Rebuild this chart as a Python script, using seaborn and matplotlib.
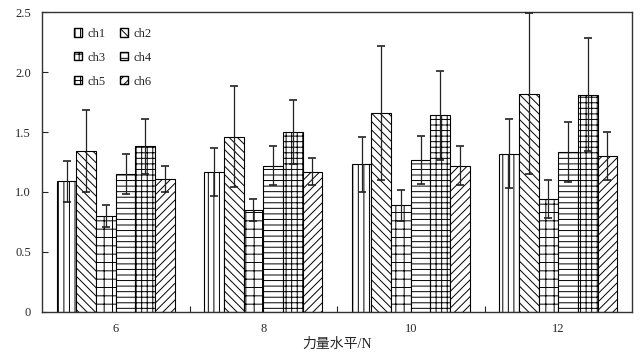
import numpy as np
import pandas as pd
import matplotlib
matplotlib.use("Agg")
import matplotlib.pyplot as plt
import seaborn as sns
from matplotlib.patches import Patch

levels = ["6", "8", "10", "12"]
channels = ["ch1", "ch2", "ch3", "ch4", "ch5", "ch6"]
ch1 = [1.09, 1.17, 1.23, 1.32]
ch2 = [1.34, 1.46, 1.66, 1.82]
ch3 = [0.80, 0.85, 0.89, 0.94]
ch4 = [1.15, 1.22, 1.27, 1.33]
ch5 = [1.38, 1.50, 1.64, 1.81]
ch6 = [1.11, 1.17, 1.22, 1.30]
ch1_err = [0.17, 0.20, 0.23, 0.29]
ch2_err = [0.34, 0.42, 0.56, 0.67]
ch3_err = [0.09, 0.09, 0.13, 0.16]
ch4_err = [0.17, 0.16, 0.20, 0.25]
ch5_err = [0.23, 0.27, 0.37, 0.47]
ch6_err = [0.11, 0.11, 0.16, 0.20]

means = [ch1, ch2, ch3, ch4, ch5, ch6]
errs = [ch1_err, ch2_err, ch3_err, ch4_err, ch5_err, ch6_err]
hatches = ["|||", "\\\\\\\\", "++", "---", "+++", "////"]

rows = []
for c, m, e in zip(channels, means, errs):
    for lv, v, ev in zip(levels, m, e):
        rows.append({"level": lv, "channel": c, "value": v, "err": ev})
df = pd.DataFrame(rows)

sns.set_theme(style="ticks")
plt.rcParams["font.family"] = ["Liberation Serif", "Noto Sans CJK SC"]
plt.rcParams["hatch.linewidth"] = 0.7
plt.rcParams["hatch.color"] = "black"

fig = plt.figure(figsize=(6.43, 3.64), dpi=100)
ax = fig.add_axes([0.0653, 0.1429, 0.9177, 0.8241])

sns.barplot(data=df, x="level", y="value", hue="channel", order=levels,
            hue_order=channels, color="white", edgecolor="black",
            linewidth=0.8, errorbar=None, ax=ax, legend=False, saturation=1)

bars = [p for p in ax.patches]
for i, c in enumerate(channels):
    for j, lv in enumerate(levels):
        p = bars[i * len(levels) + j]
        p.set_facecolor("white")
        p.set_hatch(hatches[i])
        xc = p.get_x() + p.get_width() / 2
        ax.errorbar(xc, means[i][j], yerr=errs[i][j], fmt="none",
                    ecolor="#222222", elinewidth=0.9, capsize=3, capthick=1.2,
                    zorder=5)

ax.set_xlim(-0.5, 3.5)
ax.set_ylim(0, 2.5)
ax.set_yticks([0, 0.5, 1.0, 1.5, 2.0, 2.5])
ax.set_yticklabels(["0", "0.5", "1.0", "1.5", "2.0", "2.5"])
ax.set_xticks([0.5, 1.5, 2.5], minor=True)
ax.tick_params(axis="x", which="major", length=0, labelsize=9, pad=8)
ax.tick_params(axis="x", which="minor", direction="in", length=4, width=0.8)
ax.tick_params(axis="y", direction="in", length=4, width=0.8, labelsize=9, pad=8)
for s in ax.spines.values():
    s.set_visible(True)
    s.set_linewidth(1.0)
    s.set_color("#333333")
ax.set_xlabel("力量水平/N", fontsize=10, labelpad=2)
ax.set_ylabel("")

handles = {c: Patch(facecolor="white", edgecolor="black", hatch=h, label=c)
           for c, h in zip(channels, hatches)}
order = ["ch1", "ch3", "ch5", "ch2", "ch4", "ch6"]
ax.legend(handles=[handles[c] for c in order], loc="upper left", ncol=2,
          frameon=False, fontsize=9, handlelength=0.65, handleheight=0.65,
          handletextpad=0.4, labelspacing=0.95, columnspacing=1.2,
          bbox_to_anchor=(0.035, 0.985))

fig.savefig("out.png", dpi=100)
